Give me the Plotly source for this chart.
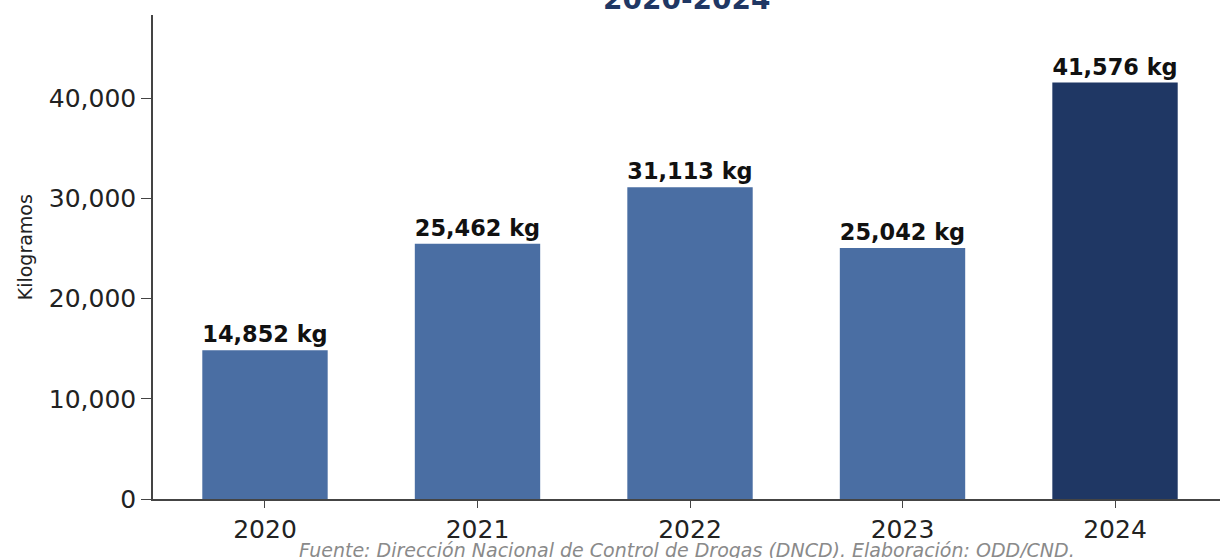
import plotly.graph_objects as go

# Seized kilograms per year
years = ["2020", "2021", "2022", "2023", "2024"]
kilos = [14852, 25462, 31113, 25042, 41576]
bar_colors = ["#4a6ea3", "#4a6ea3", "#4a6ea3", "#4a6ea3", "#1f3764"]
y_ticks = [0, 10000, 20000, 30000, 40000]

labels = [f"{v:,} kg" for v in kilos]

fig = go.Figure(
    go.Bar(
        x=years,
        y=kilos,
        marker=dict(color=bar_colors, line=dict(width=0)),
        width=0.59,
        text=labels,
        textposition="outside",
        cliponaxis=False,
        textfont=dict(family="DejaVu Sans", size=23, color="#111111", weight="bold"),
    )
)

fig.update_layout(
    width=1220,
    height=558,
    margin=dict(l=153, r=0, t=15, b=59),
    paper_bgcolor="white",
    plot_bgcolor="white",
    showlegend=False,
    font=dict(family="DejaVu Sans", color="#222222"),
)

fig.update_xaxes(
    type="category",
    range=[-0.527, 4.494],
    showline=True,
    linecolor="#444444",
    linewidth=1.5,
    ticks="outside",
    ticklen=7,
    tickwidth=1.3,
    tickcolor="#444444",
    tickfont=dict(size=25, color="#222222"),
    showgrid=False,
    zeroline=False,
)

fig.update_yaxes(
    range=[0, 48300],
    tickvals=y_ticks,
    ticktext=[f"{v:,}" for v in y_ticks],
    showline=True,
    linecolor="#444444",
    linewidth=1.5,
    ticks="outside",
    ticklen=10,
    tickwidth=1.3,
    tickcolor="#444444",
    tickfont=dict(size=25, color="#222222"),
    showgrid=False,
    zeroline=False,
)

# Vertical axis title
fig.add_annotation(
    text="Kilogramos",
    xref="paper",
    yref="paper",
    x=0,
    y=0.52,
    xanchor="center",
    yanchor="middle",
    xshift=-128,
    textangle=-90,
    showarrow=False,
    font=dict(family="DejaVu Sans", size=19, color="#222222"),
)

# Title sits at the very top edge of the page
fig.add_annotation(
    text="<b>2020-2024</b>",
    xref="paper",
    yref="paper",
    x=0.5,
    y=1,
    yanchor="bottom",
    yshift=-3,
    showarrow=False,
    font=dict(family="DejaVu Sans", size=28, color="#1f3764"),
)

fig.add_annotation(
    text="Fuente: Dirección Nacional de Control de Drogas (DNCD). Elaboración: ODD/CND.",
    xref="paper",
    yref="paper",
    x=0.5,
    y=0,
    yanchor="top",
    yshift=-38,
    showarrow=False,
    font=dict(family="DejaVu Sans", size=19, color="#8a8a8a", style="italic"),
)

fig.write_html("out.html")
